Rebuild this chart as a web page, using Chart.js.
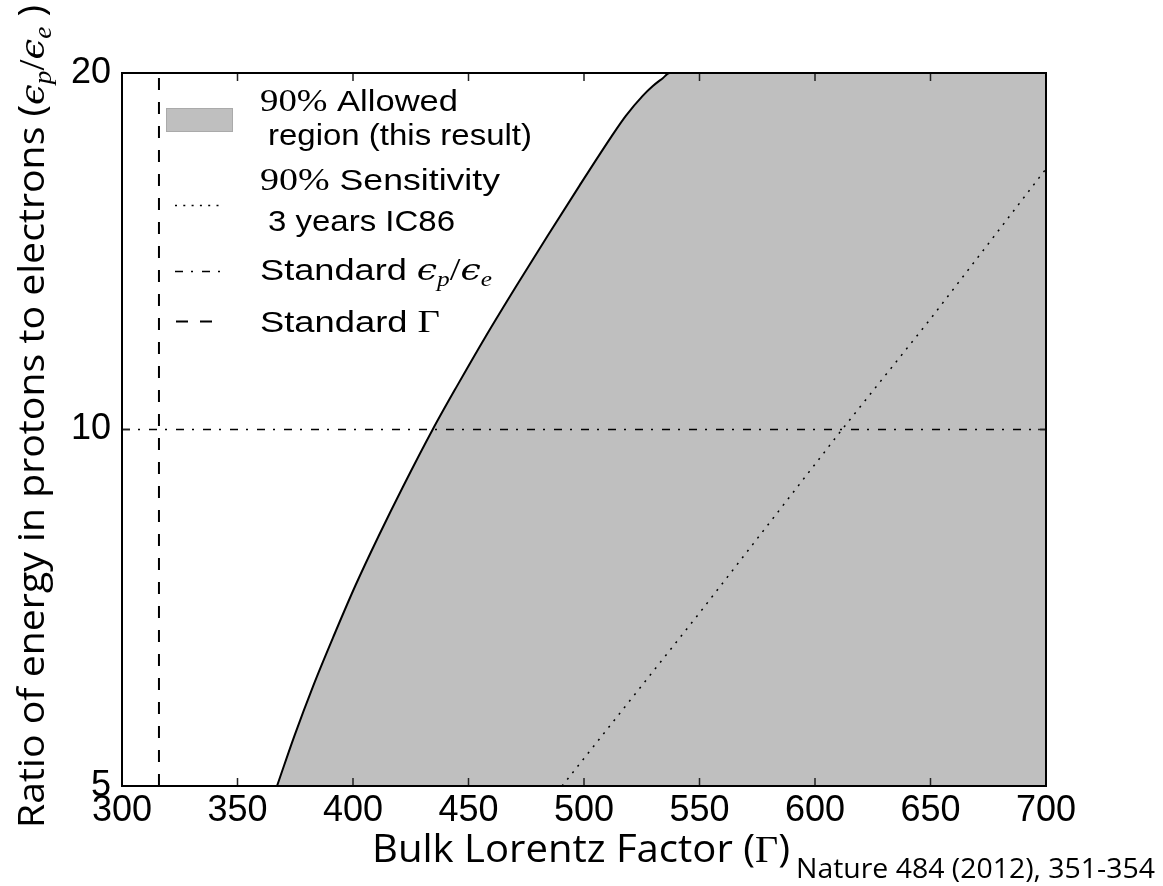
<!DOCTYPE html>
<html>
<head>
<meta charset="utf-8">
<title>Bulk Lorentz factor vs proton/electron energy ratio</title>
<script src="https://cdn.jsdelivr.net/npm/chart.js@4.4.1/dist/chart.umd.min.js"></script>
<style>
  html, body { margin: 0; padding: 0; background: #fff; }
  #wrap { width: 1163px; height: 886px; position: relative; }
</style>
</head>
<body>
<div id="wrap"><canvas id="c" width="1163" height="886"></canvas></div>
<script>
// Axis ticks
const gammaTicks = [300, 350, 400, 450, 500, 550, 600, 650, 700];
const ratioTicks = [5, 10, 20];

// Boundary of the 90% allowed region (Gamma, eps_p/eps_e)
const boundaryGamma = [367.1, 374.6, 382.7, 391.6, 401.0, 411.1, 421.8, 434.5, 445.0, 457.5,
                       470.7, 484.2, 498.0, 512.0, 518.1, 525.4, 529.8, 534.1, 537.0];
const boundaryRatio = [5.00, 5.51, 6.07, 6.69, 7.38, 8.13, 8.96, 10.0, 10.88, 11.99,
                       13.22, 14.57, 16.06, 17.69, 18.40, 19.13, 19.50, 19.80, 20.0];

// 90% sensitivity, 3 years IC86
const sensitivityGamma = [490.5, 550, 611.7, 650, 700];
const sensitivityRatio = [5.0, 7.0, 10.0, 12.4, 16.6];

// Standard values
const standardGamma = 316;
const standardRatio = 10;

const GRAY = '#bfbfbf';
const SANS = '"Liberation Sans", Arial, sans-serif';
const TITLE_SANS = '"Open Sans", "Noto Sans", sans-serif';
const SERIF = '"Liberation Serif", "DejaVu Serif", serif';
const MATH = '"DejaVu Serif", "Liberation Serif", serif';
const EPS = '\u03F5';

const allowedPoints = boundaryGamma.map((g, i) => ({ x: g, y: boundaryRatio[i] }));
allowedPoints.push({ x: 700, y: 20 });

// Draws a run of text segments (mixed fonts) left to right, optionally stretched to a width
function richText(ctx, segs, x, y, width, rotated) {
  ctx.save();
  let total = 0;
  segs.forEach(s => { ctx.font = s.f; s.w = ctx.measureText(s.t).width; total += s.w; });
  ctx.translate(x, y);
  if (rotated) ctx.rotate(-Math.PI / 2);
  const k = width ? width / total : 1;
  ctx.scale(k, 1);
  ctx.textAlign = 'left';
  ctx.textBaseline = 'alphabetic';
  ctx.fillStyle = '#000';
  let cx = 0;
  segs.forEach(s => { ctx.font = s.f; ctx.fillText(s.t, cx, s.dy || 0); cx += s.w; });
  ctx.restore();
}

function sampleLine(ctx, x0, x1, y, dash, width) {
  ctx.save();
  ctx.strokeStyle = '#000';
  ctx.lineWidth = width;
  ctx.setLineDash(dash);
  ctx.beginPath();
  ctx.moveTo(x0, y);
  ctx.lineTo(x1, y);
  ctx.stroke();
  ctx.restore();
}

const decor = {
  id: 'decor',
  afterDatasetsDraw(chart) {
    const { ctx, chartArea: a, scales: { x, y } } = chart;
    ctx.save();
    ctx.strokeStyle = '#222';
    ctx.lineWidth = 1.5;
    ctx.beginPath();
    gammaTicks.forEach(v => {
      const px = x.getPixelForValue(v);
      ctx.moveTo(px, a.bottom); ctx.lineTo(px, a.bottom - 8);
      ctx.moveTo(px, a.top); ctx.lineTo(px, a.top + 8);
    });
    ratioTicks.forEach(v => {
      const py = y.getPixelForValue(v);
      ctx.moveTo(a.left, py); ctx.lineTo(a.left + 8, py);
      ctx.moveTo(a.right, py); ctx.lineTo(a.right - 8, py);
    });
    ctx.stroke();
    ctx.strokeStyle = '#000';
    ctx.lineWidth = 2;
    ctx.strokeRect(a.left, a.top, a.width, a.height);
    ctx.restore();
  },
  afterDraw(chart) {
    const ctx = chart.ctx;

    // Legend
    ctx.save();
    ctx.fillStyle = GRAY;
    ctx.fillRect(166, 108, 67, 24);
    ctx.strokeStyle = '#aaa';
    ctx.lineWidth = 1;
    ctx.strokeRect(166.5, 108.5, 66, 23);
    ctx.restore();
    sampleLine(ctx, 175, 223, 205.5, [2, 6.3], 1.5);
    sampleLine(ctx, 175, 224, 271.5, [8, 8, 2, 9], 1.5);
    sampleLine(ctx, 176, 214, 321.5, [12, 12], 2);

    richText(ctx, [{ t: '90%', f: `32px ${SERIF}` }, { t: ' Allowed', f: `30px ${SANS}` }], 260, 111, 198);
    richText(ctx, [{ t: 'region (this result)', f: `30px ${SANS}` }], 268, 145, 264);
    richText(ctx, [{ t: '90%', f: `32px ${SERIF}` }, { t: ' Sensitivity', f: `30px ${SANS}` }], 260, 190, 240);
    richText(ctx, [{ t: '3 years IC86', f: `30px ${SANS}` }], 268, 231, 187);
    richText(ctx, [
      { t: 'Standard ', f: `30px ${SANS}` },
      { t: EPS, f: `italic 30px ${MATH}` },
      { t: 'p', f: `italic 21px ${SERIF}`, dy: 6 },
      { t: '/', f: `32px ${SERIF}` },
      { t: EPS, f: `italic 30px ${MATH}` },
      { t: 'e', f: `italic 21px ${SERIF}`, dy: 6 }
    ], 260, 280, 232);
    richText(ctx, [{ t: 'Standard ', f: `30px ${SANS}` }, { t: 'Γ', f: `32px ${SERIF}` }], 260, 332, 180);

    // Axis titles
    richText(ctx, [
      { t: 'Bulk Lorentz Factor (', f: `38px ${TITLE_SANS}` },
      { t: 'Γ', f: `38px ${SERIF}` },
      { t: ')', f: `38px ${TITLE_SANS}` }
    ], 372, 862, 418);
    richText(ctx, [
      { t: 'Ratio of energy in protons to electrons (', f: `36px ${TITLE_SANS}` },
      { t: EPS, f: `italic 34px ${MATH}` },
      { t: 'p', f: `italic 25px ${SERIF}`, dy: 7 },
      { t: '/', f: `36px ${SERIF}` },
      { t: EPS, f: `italic 34px ${MATH}` },
      { t: 'e', f: `italic 25px ${SERIF}`, dy: 7 },
      { t: ' )', f: `36px ${TITLE_SANS}` }
    ], 44, 828, 823, true);

    // Source note
    richText(ctx, [{ t: 'Nature 484 (2012), 351-354', f: `27px ${TITLE_SANS}` }], 796, 878, 359);
  }
};

new Chart(document.getElementById('c'), {
  type: 'line',
  data: {
    datasets: [
      {
        label: '90% Allowed region (this result)',
        data: allowedPoints,
        borderColor: '#000',
        borderWidth: 2,
        backgroundColor: GRAY,
        fill: 'start',
        pointRadius: 0,
        cubicInterpolationMode: 'monotone',
        order: 10
      },
      {
        label: '90% Sensitivity 3 years IC86',
        data: sensitivityGamma.map((g, i) => ({ x: g, y: sensitivityRatio[i] })),
        borderColor: '#000',
        borderWidth: 1.5,
        borderDash: [2, 6.3],
        fill: false,
        pointRadius: 0,
        order: 1
      },
      {
        label: 'Standard εp/εe',
        data: [{ x: 300, y: standardRatio }, { x: 700, y: standardRatio }],
        borderColor: '#000',
        borderWidth: 1.5,
        borderDash: [8, 8, 2, 9],
        fill: false,
        pointRadius: 0,
        order: 1
      },
      {
        label: 'Standard Γ',
        data: [{ x: standardGamma, y: 5 }, { x: standardGamma, y: 20 }],
        borderColor: '#000',
        borderWidth: 2,
        borderDash: [12, 12],
        fill: false,
        pointRadius: 0,
        order: 1
      }
    ]
  },
  options: {
    responsive: false,
    animation: false,
    devicePixelRatio: 1,
    layout: { padding: { left: 0, top: 73, right: 117, bottom: 0 } },
    plugins: { legend: { display: false }, tooltip: { enabled: false } },
    scales: {
      x: {
        type: 'linear',
        min: 300,
        max: 700,
        afterBuildTicks: s => { s.ticks = gammaTicks.map(v => ({ value: v })); },
        afterFit: s => { s.height = 100; },
        grid: { display: false, drawTicks: false },
        border: { display: false },
        ticks: {
          color: '#000',
          padding: 3,
          maxRotation: 0,
          font: { family: SANS, size: 36 },
          callback: v => String(v)
        }
      },
      y: {
        type: 'logarithmic',
        min: 5,
        max: 20,
        afterBuildTicks: s => { s.ticks = ratioTicks.map(v => ({ value: v })); },
        afterFit: s => { s.width = 122; },
        grid: { display: false, drawTicks: false },
        border: { display: false },
        ticks: {
          color: '#000',
          padding: 11,
          font: { family: SANS, size: 36 },
          callback: v => String(v)
        }
      }
    }
  },
  plugins: [decor]
});
</script>
</body>
</html>
